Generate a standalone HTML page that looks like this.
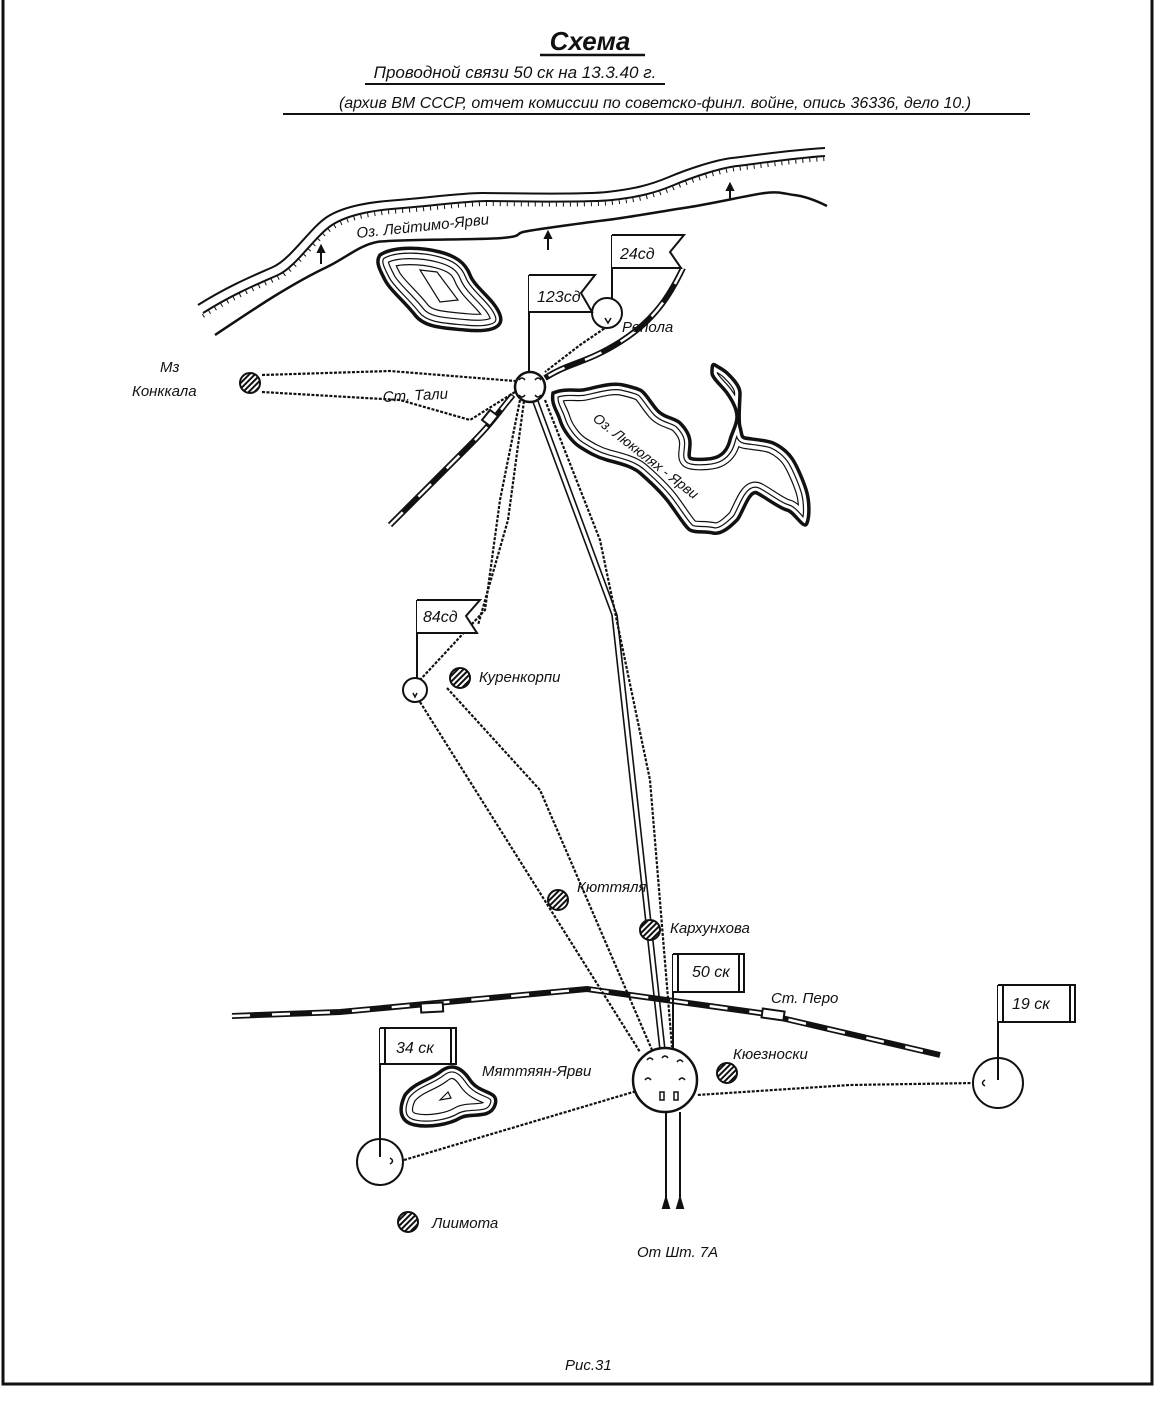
<!DOCTYPE html>
<html><head><meta charset="utf-8">
<style>
html,body{margin:0;padding:0;background:#fff;}
svg{display:block;}
text{font-family:"Liberation Sans","DejaVu Sans",sans-serif;font-style:italic;fill:#111;}
</style></head>
<body>
<svg width="1165" height="1421" viewBox="0 0 1165 1421" xmlns="http://www.w3.org/2000/svg">
<defs>
<pattern id="h" width="4" height="4" patternUnits="userSpaceOnUse" patternTransform="rotate(45)">
<rect width="4" height="4" fill="#fff"/><rect width="2" height="4" fill="#111"/>
</pattern>
<path id="lk" d="M553,393 C565,388 575,391 583,390 S610,382 623,385 S635,388 640,390 S650,402 657,410 S675,418 680,423 S690,435 690,443 S688,456 690,458 S710,460 717,457 S728,448 730,440 S737,425 737,417 S732,400 727,393 S712,378 712,373 S712,363 715,365 S724,370 727,373 S740,385 740,393 S738,420 740,427 S741,437 745,438 S766,440 773,443 S788,452 793,460 S805,485 807,493 S810,515 807,523 S795,512 787,510 S765,497 757,493 S742,515 737,520 S722,535 713,533 S695,533 690,530 S675,510 667,500 S648,480 640,473 S618,463 607,460 S588,452 580,447 S563,430 560,420 S551,405 553,393Z"/>
<path id="sl" d="M380,255 C395,245 425,248 440,252 S465,262 470,275 S495,300 500,315 S485,332 465,330 S425,328 415,315 S390,290 385,280 S375,262 380,255Z"/>
<path id="ml" d="M405,1095 C415,1082 430,1080 440,1072 S460,1065 470,1080 S500,1090 495,1105 S470,1112 460,1118 S430,1128 415,1125 S398,1110 405,1095Z"/>
<clipPath id="clk"><use href="#lk"/></clipPath>
<clipPath id="csl"><use href="#sl"/></clipPath>
<clipPath id="cml"><use href="#ml"/></clipPath>
</defs>

<!-- lakes with concentric contours -->
<g fill="none" clip-path="url(#clk)">
<use href="#lk" stroke="#111" stroke-width="22"/><use href="#lk" stroke="#fff" stroke-width="19.6"/>
<use href="#lk" stroke="#111" stroke-width="12"/><use href="#lk" stroke="#fff" stroke-width="9.6"/>
</g>
<g fill="none" clip-path="url(#csl)">
<use href="#sl" stroke="#111" stroke-width="34"/><use href="#sl" stroke="#fff" stroke-width="31.6"/>
<use href="#sl" stroke="#111" stroke-width="22"/><use href="#sl" stroke="#fff" stroke-width="19.6"/>
<use href="#sl" stroke="#111" stroke-width="11"/><use href="#sl" stroke="#fff" stroke-width="8.6"/>
</g>
<g fill="none" clip-path="url(#cml)">
<use href="#ml" stroke="#111" stroke-width="24"/><use href="#ml" stroke="#fff" stroke-width="21.6"/>
<use href="#ml" stroke="#111" stroke-width="11"/><use href="#ml" stroke="#fff" stroke-width="8.6"/>
</g>

<g fill="none" stroke="#111" stroke-width="2">
<path d="M3,0 V1384 H1152 V0" stroke-width="3"/>

<!-- shore -->
<path d="M198,305 C230,285 255,275 273,267 S310,228 327,217 S370,202 398,200 S460,193 482,193 S580,195 607,192 S650,185 669,177 S715,160 732,158 S790,150 825,148"/>
<path d="M203,313 C235,293 260,283 278,275 S315,236 332,225 S375,210 403,208 S465,201 487,201 S585,203 612,200 S655,193 674,185 S720,168 737,166 S795,158 825,156"/>
<path d="M203,316 C235,296 260,286 278,278 S315,239 332,228 S375,213 403,211 S465,204 487,204 S585,206 612,203 S655,196 674,188 S720,171 737,169 S795,161 825,159" stroke-width="4" stroke-dasharray="1 6"/>
<path d="M215,335 C245,315 260,305 273,297 S310,275 327,267 S360,245 377,242 S480,240 502,238 S515,234 523,232 S590,222 607,220 S670,210 690,207 S750,195 765,193 S785,194 794,195 S815,200 827,206" stroke-width="2.5"/>
<line x1="321" y1="264" x2="321" y2="248"/><path d="M318,252 L321,246 L324,252Z" fill="#111"/>
<line x1="548" y1="250" x2="548" y2="234"/><path d="M545,238 L548,232 L551,238Z" fill="#111"/>
<line x1="730" y1="200" x2="730" y2="186"/><path d="M727,190 L730,184 L733,190Z" fill="#111"/>

<!-- lake outlines -->
<use href="#sl" stroke-width="3.5"/>
<path d="M420,270 L437,272 L458,300 L440,302 Z" stroke-width="1.2"/>
<use href="#lk" stroke-width="3.5"/>
<use href="#ml" stroke-width="3.5"/>
<path d="M440,1100 l8,-8 l3,6 z" stroke-width="1.2"/>

<!-- railways -->
<path d="M683,268 C670,295 655,320 620,342 S570,362 545,378" stroke-width="6"/>
<path d="M683,268 C670,295 655,320 620,342 S570,362 545,378" stroke="#fff" stroke-width="2.5" stroke-dasharray="18 22"/>
<path d="M390,525 C420,495 445,470 470,445 S500,410 513,395" stroke-width="6"/>
<path d="M390,525 C420,495 445,470 470,445 S500,410 513,395" stroke="#fff" stroke-width="2.5" stroke-dasharray="18 22"/>
<path d="M482,420 l8,-10 l8,6 l-8,10z" fill="#fff"/>
<path d="M232,1016 L340,1012 L587,989 L760,1013 L940,1055" stroke-width="6"/>
<path d="M232,1016 L340,1012 L587,989 L760,1013 L940,1055" stroke="#fff" stroke-width="2.5" stroke-dasharray="18 22"/>
<rect x="421" y="1003" width="22" height="9" fill="#fff" transform="rotate(-3 432 1008)"/>
<rect x="762" y="1010" width="22" height="9" fill="#fff" transform="rotate(8 773 1015)"/>

<!-- communication lines -->
<g stroke-width="2.2" stroke-dasharray="3 1.5">
<polyline points="608,326 580,345 545,372"/>
<polyline points="262,375 390,371 515,381"/>
<polyline points="262,392 400,400 470,420 515,392"/>
<polyline points="520,400 500,500 485,610 420,680"/>
<polyline points="524,401 508,520 478,625"/>
<polyline points="545,400 600,540 650,780 672,1047"/>
<polyline points="420,702 640,1052"/>
<polyline points="447,688 540,790 652,1050"/>
<polyline points="404,1160 640,1090"/>
<polyline points="975,1083 850,1085 697,1095"/>
</g>
<path d="M533,402 L612,615 L660,1050" stroke-width="1.6"/>
<path d="M538,401 L617,615 L665,1050" stroke-width="1.6"/>

<!-- nodes -->
<circle cx="530" cy="387" r="15" fill="#fff" stroke-width="2.5"/>
<circle cx="607" cy="313" r="15" fill="#fff"/>
<circle cx="415" cy="690" r="12" fill="#fff"/>
<circle cx="665" cy="1080" r="32" fill="#fff" stroke-width="2.5"/>
<circle cx="998" cy="1083" r="25" fill="#fff"/>
<circle cx="380" cy="1162" r="23" fill="#fff"/>
<g stroke-width="1.5">
<path d="M519,380 q3,-4 6,0 M535,380 q3,-4 6,0 M519,395 q3,4 6,0 M535,395 q3,4 6,0"/>
<path d="M647,1060 q3,-4 6,0 M662,1058 q3,-4 6,0 M677,1062 q3,-4 6,0 M645,1080 q3,-4 6,0 M679,1080 q3,-4 6,0"/>
<path d="M660,1092 v8 h4 v-8z M674,1092 v8 h4 v-8z"/>
<path d="M985,1080 q-5,3 0,6 M390,1158 q5,3 0,6 M605,318 l3,5 l3,-5 M413,693 l2,4 l2,-4"/>
</g>

<!-- settlements -->
<g fill="url(#h)">
<circle cx="250" cy="383" r="10"/><circle cx="460" cy="678" r="10"/><circle cx="558" cy="900" r="10"/>
<circle cx="650" cy="930" r="10"/><circle cx="727" cy="1073" r="10"/><circle cx="408" cy="1222" r="10"/>
</g>

<!-- flags -->
<line x1="529" y1="275" x2="529" y2="373"/><path d="M529,275 H595 L581,293 L592,312 H529" fill="#fff"/>
<line x1="612" y1="235" x2="612" y2="298"/><path d="M612,235 H684 L670,252 L681,268 H612" fill="#fff"/>
<line x1="417" y1="600" x2="417" y2="678"/><path d="M417,600 H480 L466,616 L477,633 H417" fill="#fff"/>
<line x1="673" y1="954" x2="673" y2="1050"/><path d="M673,954 H744 V992 H673 M678,954 V992 M739,954 V992" fill="#fff"/>
<line x1="380" y1="1028" x2="380" y2="1157"/><path d="M380,1028 H456 V1064 H380 M385,1028 V1064 M451,1028 V1064" fill="#fff"/>
<line x1="998" y1="985" x2="998" y2="1080"/><path d="M998,985 H1075 V1022 H998 M1003,985 V1022 M1070,985 V1022" fill="#fff"/>

<!-- arrows from bottom -->
<line x1="666" y1="1208" x2="666" y2="1112"/><line x1="680" y1="1208" x2="680" y2="1112"/>
<path d="M663,1208 L666,1198 L669,1208Z M677,1208 L680,1198 L683,1208Z" fill="#111"/>

<line x1="540" y1="55" x2="645" y2="55" stroke-width="2.5"/>
<line x1="365" y1="84" x2="665" y2="84"/>
<line x1="283" y1="114" x2="1030" y2="114"/>
</g>

<text x="590" y="50" font-size="26" text-anchor="middle" font-weight="bold">Схема</text>
<text x="515" y="78" font-size="17" text-anchor="middle">Проводной связи  50 ск  на  13.3.40 г.</text>
<text x="655" y="108" font-size="16" text-anchor="middle">(архив ВМ СССР, отчет комиссии по советско-финл. войне, опись 36336, дело 10.)</text>
<g font-size="15">
<text x="357" y="238" transform="rotate(-6 357 238)">Оз. Лейтимо-Ярви</text>
<text x="622" y="332">Репола</text>
<text x="160" y="372">Мз</text>
<text x="132" y="396">Конккала</text>
<text x="383" y="402" transform="rotate(-3 383 402)">Ст. Тали</text>
<text x="592" y="420" transform="rotate(38 592 420)" font-size="14">Оз. Люкюлях - Ярви</text>
<text x="479" y="682">Куренкорпи</text>
<text x="577" y="892">Кюттяля</text>
<text x="670" y="933">Кархунхова</text>
<text x="771" y="1003">Ст. Перо</text>
<text x="733" y="1059">Кюезноски</text>
<text x="482" y="1076">Мяттяян-Ярви</text>
<text x="432" y="1228">Лиимота</text>
<text x="637" y="1257">От Шт. 7А</text>
<text x="565" y="1370">Рис.31</text>
</g>
<g font-size="16">
<text x="537" y="302">123сд</text>
<text x="620" y="259">24сд</text>
<text x="423" y="622">84сд</text>
<text x="692" y="977">50 ск</text>
<text x="396" y="1053">34 ск</text>
<text x="1012" y="1009">19 ск</text>
</g>
</svg>
</body></html>
